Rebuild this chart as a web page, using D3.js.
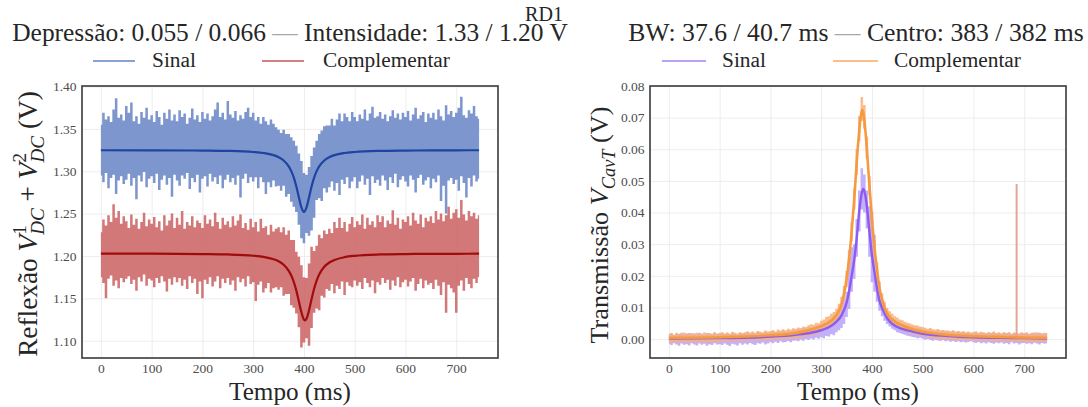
<!DOCTYPE html>
<html>
<head>
<meta charset="utf-8">
<script src="https://cdn.jsdelivr.net/npm/d3@7"></script>
<style>
  body { margin: 0; background: #fff; }
  svg { display: block; }
  svg text { font-family: "Liberation Serif", "Times New Roman", serif !important; }
</style>
</head>
<body>
<div id="app"></div>
<script>
// ---- data ----
const suptitle = 'RD1'
const depressao = [0.055, 0.066]
const intensidade = [1.33, 1.20]
const bw = [37.6, 40.7]
const centro = [383, 382]
const seriesNames = ['Sinal', 'Complementar']

const xTicks = [0, 100, 200, 300, 400, 500, 600, 700]
const reflTicks = [1.10, 1.15, 1.20, 1.25, 1.30, 1.35, 1.40]
const transTicks = [0, 0.01, 0.02, 0.03, 0.04, 0.05, 0.06, 0.07, 0.08]

// raw traces: envelope of the noisy signal, one value every 5 ms from 0 to 745 ms
const sampleStep = 5
// reflexao, in mV
const sinalHi = [
  1355,1369,1361,1365,1358,1373,1386,1363,1367,1360,
  1377,1369,1381,1359,1365,1356,1370,1363,1375,1361,
  1366,1358,1371,1364,1355,1369,1362,1373,1360,1367,
  1359,1372,1364,1368,1356,1363,1374,1361,1366,1358,
  1370,1362,1368,1360,1365,1373,1381,1364,1369,1361,
  1383,1367,1363,1371,1360,1366,1362,1370,1375,1364,
  1369,1360,1364,1356,1364,1359,1355,1361,1356,1352,
  1349,1345,1349,1344,1344,1340,1336,1330,1321,1312,
  1298,1296,1305,1318,1328,1336,1344,1348,1353,1354,
  1354,1362,1354,1361,1368,1359,1368,1364,1359,1370,
  1364,1359,1367,1362,1373,1360,1368,1376,1363,1365,
  1370,1362,1367,1359,1365,1372,1363,1368,1361,1369,
  1364,1371,1360,1367,1375,1362,1366,1370,1358,1368,
  1363,1369,1361,1373,1365,1360,1378,1367,1371,1364,
  1369,1375,1388,1366,1363,1372,1368,1377,1365,1362]
const sinalLo = [
  1295,1287,1298,1280,1292,1296,1273,1289,1294,1285,
  1290,1297,1283,1292,1267,1295,1288,1299,1281,1291,
  1294,1286,1297,1278,1290,1295,1284,1292,1270,1296,
  1289,1283,1295,1291,1298,1279,1292,1287,1296,1275,
  1291,1294,1282,1297,1288,1293,1285,1295,1280,1290,
  1296,1287,1292,1284,1295,1269,1291,1297,1286,1293,
  1288,1293,1280,1293,1287,1273,1287,1281,1289,1282,
  1283,1277,1283,1270,1273,1264,1258,1252,1237,1221,
  1215,1227,1224,1230,1245,1266,1268,1265,1280,1275,
  1281,1288,1277,1286,1272,1290,1285,1293,1280,1288,
  1293,1280,1288,1295,1284,1291,1272,1294,1286,1290,
  1283,1295,1289,1278,1293,1286,1297,1281,1290,1294,
  1288,1282,1295,1290,1275,1292,1296,1284,1289,1293,
  1280,1291,1287,1295,1265,1283,1250,1289,1292,1285,
  1290,1277,1294,1286,1269,1292,1282,1295,1288,1291]
const complHi = [
  1228,1243,1236,1248,1240,1261,1245,1253,1238,1247,
  1241,1233,1249,1237,1244,1232,1240,1251,1235,1243,
  1238,1246,1234,1241,1230,1248,1236,1242,1250,1233,
  1245,1237,1253,1232,1240,1236,1247,1234,1242,1239,
  1233,1248,1238,1243,1235,1251,1240,1232,1245,1237,
  1241,1234,1247,1236,1242,1249,1233,1239,1231,1244,
  1234,1240,1229,1244,1233,1235,1225,1237,1229,1232,
  1234,1228,1234,1225,1230,1219,1219,1205,1199,1189,
  1175,1174,1191,1211,1206,1212,1225,1221,1230,1226,
  1232,1227,1240,1233,1245,1233,1240,1229,1238,1246,
  1234,1241,1237,1249,1232,1245,1237,1241,1234,1248,
  1240,1247,1234,1242,1238,1254,1237,1245,1232,1243,
  1240,1247,1236,1251,1242,1238,1249,1234,1245,1241,
  1247,1239,1253,1243,1250,1241,1248,1258,1244,1251,
  1255,1245,1266,1249,1242,1253,1247,1251,1244,1248]
const complLo = [
  1175,1168,1150,1173,1177,1165,1171,1162,1174,1169,
  1173,1176,1167,1172,1159,1175,1170,1178,1165,1173,
  1171,1163,1174,1168,1176,1170,1158,1173,1166,1175,
  1169,1174,1165,1172,1161,1176,1168,1173,1155,1170,
  1150,1172,1167,1175,1164,1170,1176,1162,1173,1168,
  1174,1166,1171,1159,1175,1169,1173,1164,1176,1167,
  1169,1147,1166,1170,1157,1162,1168,1157,1162,1163,
  1160,1163,1153,1155,1155,1142,1139,1132,1116,1092,
  1098,1103,1094,1115,1133,1138,1136,1153,1151,1161,
  1159,1167,1156,1165,1161,1170,1154,1169,1165,1163,
  1171,1165,1169,1161,1174,1168,1163,1171,1156,1169,
  1166,1174,1168,1172,1160,1171,1165,1175,1163,1169,
  1172,1164,1170,1174,1159,1167,1173,1162,1171,1166,
  1168,1161,1172,1165,1154,1169,1133,1166,1162,1157,
  1133,1165,1171,1159,1174,1167,1162,1173,1168,1175]

// transmissao, in 0.1 mV
const tSinalHi = [
  15,19,13,18,16,20,14,17,19,15,
  18,14,20,16,13,19,17,15,21,16,
  17,20,15,19,16,21,18,14,20,17,
  19,22,17,21,18,23,20,19,24,21,
  22,26,21,25,23,28,24,27,26,30,
  29,32,30,35,33,38,36,40,42,44,
  45,50,52,58,62,70,78,90,105,125,
  150,260,290,300,380,470,540,520,470,420,
  400,330,200,150,125,105,88,76,66,60,
  55,50,48,45,43,41,40,37,36,34,
  32,30,28,31,27,26,29,25,27,24,
  25,23,26,22,24,21,23,20,22,19,
  21,23,19,22,20,18,21,19,23,18,
  20,17,21,18,22,16,19,20,17,21,
  18,20,16,19,21,17,20,18,16,19]
const tSinalLo = [
  -15,-19,-13,-17,-21,-14,-18,-16,-20,-13,
  -17,-20,-14,-18,-15,-21,-16,-19,-13,-17,
  -16,-19,-14,-18,-22,-15,-17,-20,-13,-18,
  -14,-17,-12,-16,-19,-13,-15,-11,-17,-14,
  -10,-13,-8,-12,-7,-11,-9,-6,-10,-5,
  -4,-7,-2,-5,0,-3,2,-1,4,1,
  6,3,10,8,15,12,22,28,35,48,
  70,95,150,190,260,340,410,400,350,260,
  180,150,118,90,72,58,48,40,33,28,
  22,19,16,14,11,9,7,5,3,4,
  1,-2,0,-3,-5,-2,-4,-6,-3,-7,
  -5,-8,-6,-9,-7,-10,-8,-11,-9,-7,
  -10,-12,-9,-13,-11,-14,-10,-12,-15,-11,
  -13,-11,-15,-12,-16,-10,-14,-12,-17,-13,
  -12,-15,-13,-16,-11,-14,-17,-12,-15,-13]
const tComplHi = [
  16,19,14,20,17,15,21,18,16,19,
  17,20,15,18,22,16,19,17,21,18,
  19,22,18,21,17,23,20,18,22,19,
  22,25,21,24,20,26,23,22,27,24,
  26,29,24,30,27,31,28,33,30,34,
  33,37,35,40,38,44,47,45,52,50,
  58,62,70,72,80,86,96,112,134,168,
  215,282,370,475,600,705,765,740,640,515,
  405,315,242,182,145,118,98,88,80,72,
  68,62,60,55,52,49,46,44,43,40,
  38,36,33,35,31,30,32,28,29,27,
  27,25,28,24,26,23,25,22,24,21,
  22,24,20,23,21,19,22,20,23,19,
  21,18,22,19,20,17,21,19,18,20,
  19,21,17,20,18,22,19,17,20,18]
const tComplLo = [
  -9,-12,-8,-13,-10,-7,-11,-9,-12,-8,
  -10,-7,-12,-9,-11,-8,-13,-10,-7,-11,
  -8,-5,-9,-6,-10,-5,-8,-7,-4,-8,
  -4,-7,-3,-6,-2,-5,-3,-6,-2,-4,
  -1,-4,0,-3,1,-2,2,-1,3,0,
  4,2,7,5,10,8,14,12,18,16,
  24,28,33,38,42,50,58,70,90,120,
  165,225,310,410,520,625,690,665,570,455,
  350,265,198,140,105,80,64,54,46,40,
  35,31,28,24,22,19,17,15,13,12,
  10,8,6,5,3,2,0,1,-1,0,
  -2,-1,-3,-2,-4,-3,-2,-5,-3,-4,
  -5,-3,-6,-4,-7,-5,-4,-6,-8,-5,
  -7,-6,-8,-5,-9,-7,-6,-8,-10,-7,
  -8,-10,-7,-9,-11,-8,-10,-9,-7,-9]
// glitch in the complementar transmission trace
const spikeT = 685
const spikeV = [10, 490]

// fitted curves
const sinalFitT = [0,100,200,250,300,320,340,350,360,370,375,380,385,390,395,400,405,410,415,420,425,430,440,450,460,480,500,550,600,650,700,745]
const sinalFitV = [1324.8,1324.7,1324.4,1324.0,1322.7,1321.5,1319.0,1316.6,1312.7,1305.7,1300.1,1292.4,1281.9,1269.2,1257.3,1252.0,1257.3,1269.2,1281.9,1292.4,1300.1,1305.7,1312.7,1316.6,1319.0,1321.5,1322.7,1324.0,1324.4,1324.6,1324.7,1324.8]
const complFitT = [0,100,200,250,300,320,340,350,360,370,375,380,385,390,395,400,402,405,410,415,420,425,430,440,450,460,480,500,550,600,650,700,745]
const complFitV = [1202.8,1202.7,1202.3,1201.8,1200.3,1199.0,1196.2,1193.7,1189.6,1182.5,1176.9,1169.3,1159.1,1146.5,1133.5,1124.9,1124.0,1125.9,1135.9,1149.2,1161.4,1170.9,1178.1,1187.2,1192.3,1195.3,1198.6,1200.2,1201.8,1202.3,1202.5,1202.6,1202.7]
const tSinalFitT = [0,100,200,250,280,300,320,330,340,350,355,360,365,370,375,380,383,386,390,395,400,405,410,415,420,430,440,460,480,500,550,600,650,700,745]
const tSinalFitV = [2,3,8,14,20,28,42,55,75,115,152,200,250,320,405,462,475,462,420,340,265,210,160,120,98,66,48,32,24,17,10,6,4,3,2]
const tComplFitT = [0,100,200,250,280,300,320,330,340,345,350,355,360,365,370,375,378,381,384,387,390,395,400,405,410,415,420,430,440,460,480,500,550,600,650,700,745]
const tComplFitV = [4,6,12,19,30,41,59,76,110,143,190,255,340,440,560,660,705,725,705,660,600,485,380,290,220,160,125,80,62,43,31,23,13,9,7,5,4]

// ---- drawing ----
const W = 1088, H = 407
const axTop = 86, axBottom = 358
const xDomain = [-37.25, 782.25]
const serif = '"Liberation Serif", "Times New Roman", serif'
const svg = d3.select('#app').append('svg').attr('width', W).attr('height', H)
  .attr('font-family', serif)

// scale a text element so its advance equals the wanted width
function fitScale(sel, width) {
  return width / sel.node().getComputedTextLength()
}

function makePanel(x0, x1, yDomain, yTicks, fmt) {
  const x = d3.scaleLinear().domain(xDomain).range([x0, x1])
  const y = d3.scaleLinear().domain(yDomain).range([axBottom, axTop])
  const g = svg.append('g')

  // grid
  g.append('g')
    .attr('transform', 'translate(0,' + axBottom + ')')
    .call(d3.axisBottom(x).tickValues(xTicks).tickSize(-(axBottom - axTop)).tickFormat(''))
    .call(a => a.select('.domain').remove())
    .call(a => a.selectAll('line').attr('stroke', '#ebebeb').attr('stroke-width', 0.9))
  g.append('g')
    .attr('transform', 'translate(' + x0 + ',0)')
    .call(d3.axisLeft(y).tickValues(yTicks).tickSize(-(x1 - x0)).tickFormat(''))
    .call(a => a.select('.domain').remove())
    .call(a => a.selectAll('line').attr('stroke', '#ebebeb').attr('stroke-width', 0.9))

  // tick labels
  g.append('g')
    .attr('transform', 'translate(0,' + axBottom + ')')
    .call(d3.axisBottom(x).tickValues(xTicks).tickSize(0).tickPadding(5.5))
    .attr('font-family', serif).attr('font-size', 13.5)
    .call(a => a.select('.domain').remove())
    .call(a => a.selectAll('text').attr('fill', '#4d4d4d'))
  g.append('g')
    .attr('transform', 'translate(' + x0 + ',0)')
    .call(d3.axisLeft(y).tickValues(yTicks).tickSize(0).tickPadding(5.5).tickFormat(fmt))
    .attr('font-family', serif).attr('font-size', 13.5)
    .call(a => a.select('.domain').remove())
    .call(a => a.selectAll('text').attr('fill', '#4d4d4d'))

  const plot = g.append('g')
  g.append('rect')
    .attr('x', x0).attr('y', axTop).attr('width', x1 - x0).attr('height', axBottom - axTop)
    .attr('fill', 'none').attr('stroke', '#3a3a3a').attr('stroke-width', 1.6)

  return {x, y, g, plot, cx: (x0 + x1) / 2}
}

function band(p, hi, lo, unit, color, opacity) {
  const area = d3.area().curve(d3.curveStep)
    .x((d, i) => p.x(i * sampleStep))
    .y0(d => p.y(d[0] / unit))
    .y1(d => p.y(d[1] / unit))
  p.plot.append('path')
    .datum(hi.map((h, i) => [lo[i], h]))
    .attr('d', area)
    .attr('fill', color).attr('fill-opacity', opacity)
}

function fitLine(p, ts, vs, unit, color, width) {
  const line = d3.line().curve(d3.curveMonotoneX)
    .x(d => p.x(d[0])).y(d => p.y(d[1] / unit))
  p.plot.append('path')
    .datum(ts.map((t, i) => [t, vs[i]]))
    .attr('d', line)
    .attr('fill', 'none').attr('stroke', color).attr('stroke-width', width)
    .attr('stroke-linejoin', 'round')
}

function title(cx, baseline, width, parts) {
  const t = svg.append('text').attr('text-anchor', 'middle').attr('font-size', 20).attr('fill', '#262626')
  parts.forEach(pt => t.append('tspan').attr('fill', pt[1] || '#262626').text(pt[0]))
  const k = fitScale(t, width)
  t.attr('transform', 'translate(' + cx + ',' + baseline + ') scale(' + k + ')')
}

function legend(items, y) {
  // items: [lineX0, lineX1, textX, color, label]
  items.forEach(it => {
    svg.append('line').attr('x1', it[0]).attr('x2', it[1]).attr('y1', y).attr('y2', y)
      .attr('stroke', it[3]).attr('stroke-width', 2)
  })
  const texts = items.map(it => svg.append('text').attr('font-size', 20).attr('fill', '#262626').text(it[4]))
  const k = fitScale(texts[1], 127)
  texts.forEach((t, i) => t.attr('transform', 'translate(' + items[i][2] + ',' + (y + 6) + ') scale(' + k + ')'))
}

function xLabel(cx) {
  const t = svg.append('text').attr('text-anchor', 'middle').attr('font-size', 20).attr('fill', '#262626').text('Tempo (ms)')
  const k = fitScale(t, 122)
  t.attr('transform', 'translate(' + cx + ',400) scale(' + k + ')')
}

function yLabel(xBase, yc, length, build) {
  const t = svg.append('text').attr('text-anchor', 'middle').attr('font-size', 20).attr('fill', '#262626')
  build(t)
  const k = fitScale(t, length)
  t.attr('transform', 'translate(' + xBase + ',' + yc + ') rotate(-90) scale(' + k + ')')
}

// left panel: reflexao
const left = makePanel(82, 498, [1.0796, 1.4006], reflTicks, d3.format('.2f'))
band(left, sinalHi, sinalLo, 1000, '#7d96cd', 1)
band(left, complHi, complLo, 1000, '#ca6060', 0.85)
fitLine(left, sinalFitT, sinalFitV, 1000, '#1d44a0', 2.2)
fitLine(left, complFitT, complFitV, 1000, '#a00b0b', 2.2)

// right panel: transmissao
const right = makePanel(650, 1066, [-0.00597, 0.08], transTicks, d3.format('.2f'))
band(right, tSinalHi, tSinalLo, 10000, '#bea6f8', 0.9)
band(right, tComplHi, tComplLo, 10000, '#f8b079', 0.85)
right.plot.append('line')
  .attr('x1', right.x(spikeT)).attr('x2', right.x(spikeT))
  .attr('y1', right.y(spikeV[0] / 10000)).attr('y2', right.y(spikeV[1] / 10000))
  .attr('stroke', '#e4a593').attr('stroke-width', 2)
fitLine(right, tSinalFitT, tSinalFitV, 10000, '#8c5cf0', 2.4)
fitLine(right, tComplFitT, tComplFitV, 10000, '#f69a40', 2.6)

// titles
title(left.cx, 41, 556, [
  ['Depressão: ' + depressao[0].toFixed(3) + ' / ' + depressao[1].toFixed(3) + ' '],
  ['—', '#a8a8a8'],
  [' Intensidade: ' + intensidade[0].toFixed(2) + ' / ' + intensidade[1].toFixed(2) + ' V']
])
title(right.cx - 2, 41, 456, [
  ['BW: ' + bw[0].toFixed(1) + ' / ' + bw[1].toFixed(1) + ' ms '],
  ['—', '#a8a8a8'],
  [' Centro: ' + centro[0] + ' / ' + centro[1] + ' ms']
])
title(544, 21, 38, [[suptitle]])

legend([[93, 135, 152, '#8aa1d3', seriesNames[0]], [262, 304, 323, '#d47f80', seriesNames[1]]], 61)
legend([[662, 706, 722, '#b9a3f5', seriesNames[0]], [833, 878, 894, '#fbbf8c', seriesNames[1]]], 61)

xLabel(left.cx)
xLabel(right.cx)

yLabel(37, 224, 285, t => {
  t.append('tspan').text('Reflexão ')
  t.append('tspan').attr('font-style', 'italic').text('V')
  t.append('tspan').attr('font-size', 14).attr('dy', -8).text('1')
  t.append('tspan').attr('font-size', 14).attr('font-style', 'italic').attr('dx', -7).attr('dy', 13).text('DC')
  t.append('tspan').attr('dy', -5).text(' + ')
  t.append('tspan').attr('font-style', 'italic').text('V')
  t.append('tspan').attr('font-size', 14).attr('dy', -8).text('2')
  t.append('tspan').attr('font-size', 14).attr('font-style', 'italic').attr('dx', -7).attr('dy', 13).text('DC')
  t.append('tspan').attr('dy', -5).text(' (V)')
})
yLabel(608, 225, 237, t => {
  t.append('tspan').text('Transmissão ')
  t.append('tspan').attr('font-style', 'italic').text('V')
  t.append('tspan').attr('font-size', 14).attr('font-style', 'italic').attr('dy', 5).text('CavT')
  t.append('tspan').attr('dy', -5).text(' (V)')
})
</script>
</body>
</html>
